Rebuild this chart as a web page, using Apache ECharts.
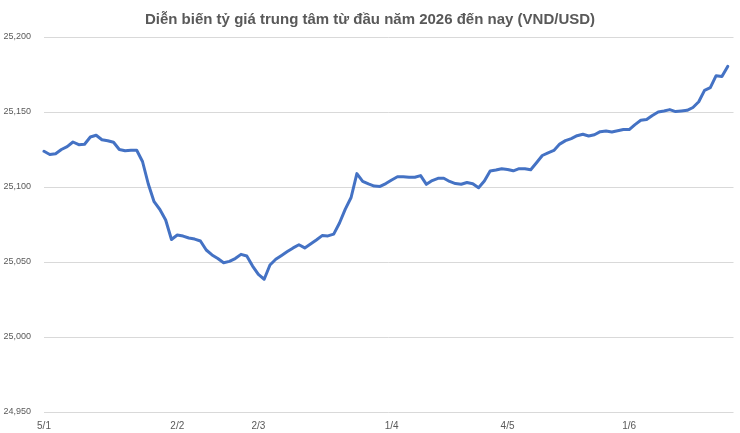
<html>
<head>
<meta charset="UTF-8" />
<title>Tỷ giá trung tâm 2026</title>
</head>
<body style="margin:0;background:#fff;">
<div id="main" style="width:740px;height:433px;"></div>
<script type="text/javascript" src="https://cdn.jsdelivr.net/npm/echarts@6/dist/echarts.min.js"></script>
<script type="text/javascript">
// tick labels and the positions (index of the trading day) where they sit
var tickLabels = ['5/1', '2/2', '2/3', '1/4', '4/5', '1/6'];
var tickIndex = [0, 23, 37, 60, 80, 101];

// central rate, VND per USD
var rates = [
    25123.8, 25121.7, 25122.2, 25125, 25126.9, 25130, 25128.2, 25128.5, 25133.3, 25134.5,
    25131.5, 25130.8, 25129.8, 25125, 25124.2, 25124.5, 25124.5, 25117, 25102, 25090.2,
    25085, 25078, 25065, 25068, 25067.3, 25066, 25065.3, 25064, 25058, 25054.7,
    25052.3, 25049.5, 25050.4, 25052.3, 25055.1, 25054, 25047.3, 25041.7, 25038.5, 25048,
    25051.8, 25054.4, 25057, 25059.4, 25061.5, 25059.4, 25062, 25064.7, 25067.6, 25067.4,
    25068.6, 25076, 25085.3, 25093, 25108.9, 25103.8, 25102.1, 25100.6, 25100.4, 25102.3,
    25104.7, 25106.8, 25106.9, 25106.5, 25106.5, 25107.6, 25101.8, 25104.3, 25105.8, 25105.8,
    25103.7, 25102.3, 25101.8, 25103, 25102.2, 25099.5, 25104, 25110.7, 25111.3, 25112.2,
    25111.7, 25110.8, 25112.2, 25112.2, 25111.5, 25116.2, 25121, 25122.8, 25124.4, 25128.6,
    25130.9, 25132.3, 25134.2, 25135.2, 25134, 25134.8, 25136.9, 25137.3, 25136.7, 25137.5,
    25138.3, 25138.3, 25141.6, 25144.5, 25145, 25147.7, 25150, 25150.7, 25151.6, 25150.3,
    25150.7, 25151.1, 25153, 25156.8, 25164.4, 25166.2, 25174.2, 25173.6, 25180.4
];

var yMin = 24950, yMax = 25200, yStep = 50;

// one category per day, plus a blank one so the line stops short of the right edge
var categories = [];
for (var i = 0; i <= rates.length; i++) {
    categories.push('');
}
for (var k = 0; k < tickLabels.length; k++) {
    categories[tickIndex[k]] = tickLabels[k];
}

var font = "'Liberation Sans', sans-serif";
var myChart = echarts.init(document.getElementById('main'));

var option = {
    animation: false,
    backgroundColor: '#ffffff',
    title: {
        text: 'Diễn biến tỷ giá trung tâm từ đầu năm 2026 đến nay (VND/USD)',
        left: 'center',
        top: 7,
        textStyle: {
            fontFamily: font,
            fontSize: 15,
            fontWeight: 'bold',
            color: '#595959'
        }
    },
    grid: {
        left: 44,
        right: 6.5,
        top: 37,
        bottom: 21,
        containLabel: false,
        outerBoundsMode: 'none'
    },
    xAxis: {
        type: 'category',
        boundaryGap: false,
        data: categories,
        axisLine: { show: false },
        axisTick: { show: false },
        axisLabel: {
            interval: 0,
            margin: 9,
            alignMinLabel: 'center',
            fontFamily: font,
            fontSize: 10,
            color: '#595959'
        }
    },
    yAxis: {
        type: 'value',
        min: yMin,
        max: yMax,
        interval: yStep,
        axisLine: { show: false },
        axisTick: { show: false },
        axisLabel: {
            margin: 13,
            fontFamily: font,
            fontSize: 9,
            color: '#595959',
            formatter: function (v) {
                return v.toLocaleString('en-US');
            }
        },
        splitLine: {
            lineStyle: { color: '#d9d9d9', width: 1 }
        }
    },
    series: [
        {
            name: 'Tỷ giá trung tâm',
            type: 'line',
            data: rates,
            showSymbol: false,
            symbol: 'none',
            smooth: false,
            lineStyle: {
                color: '#4472c4',
                width: 3,
                join: 'round',
                cap: 'round'
            }
        }
    ]
};

myChart.setOption(option);
</script>
</body>
</html>
